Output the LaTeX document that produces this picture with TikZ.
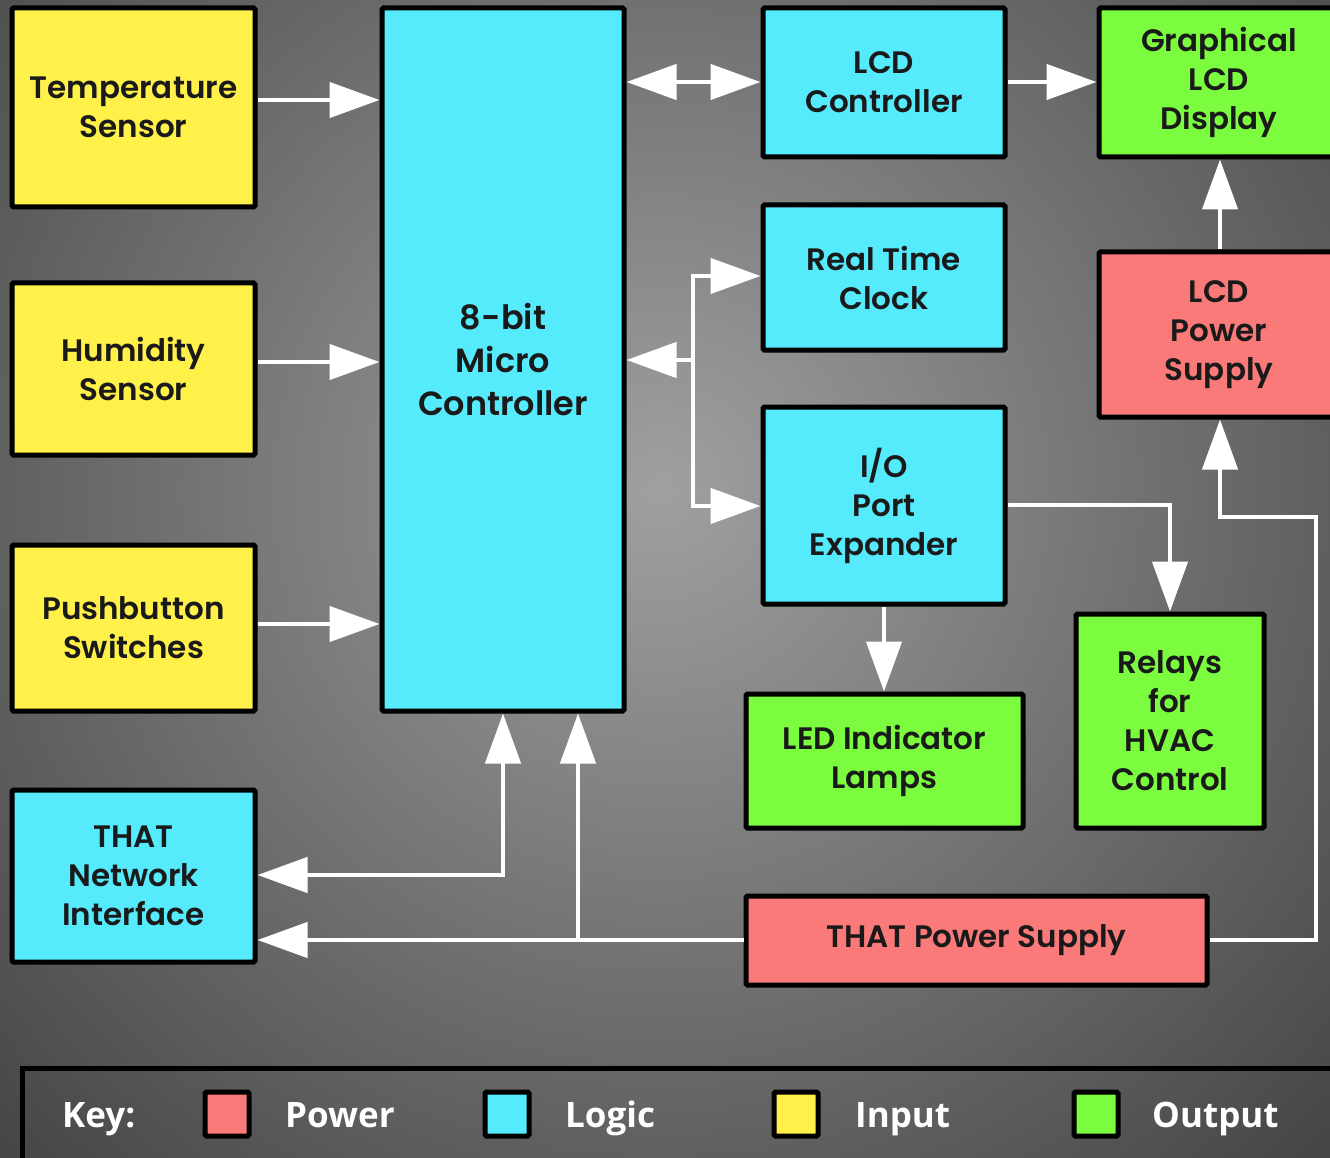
\documentclass[tikz,border=0pt]{standalone}
\usepackage{fontspec}
\IfFontExistsTF{Poppins SemiBold}{\setmainfont{Poppins}[BoldFont={Poppins SemiBold}]}{\IfFontExistsTF{Poppins Medium}{\setmainfont{Poppins}[BoldFont={Poppins Medium}]}{\setmainfont{Poppins}}}
\newfontfamily\keyfont{Open Sans}
\usetikzlibrary{arrows.meta}
\definecolor{cyanbox}{HTML}{55EBFC}
\definecolor{yellowbox}{HTML}{FFF04A}
\definecolor{greenbox}{HTML}{7BFC3E}
\definecolor{redbox}{HTML}{F97A78}
\definecolor{bgin}{HTML}{A0A0A0}
\definecolor{bgout}{HTML}{242424}
\definecolor{inktext}{HTML}{1A1A1A}
\tikzset{
  blk/.style={draw=black, line width=5pt, rounded corners=1.5pt, font=\fontsize{31}{39}\selectfont\bfseries, text=inktext, align=center, inner sep=0pt},
  inp/.style={blk, fill=yellowbox},
  logic/.style={blk, fill=cyanbox},
  outp/.style={blk, fill=greenbox},
  pwr/.style={blk, fill=redbox},
  conn/.style={draw=white, line width=4.5pt, -{Triangle[length=50pt,width=35pt]}},
  conn2/.style={draw=white, line width=4.5pt, {Triangle[length=50pt,width=35pt]}-{Triangle[length=50pt,width=35pt]}},
  plain/.style={draw=white, line width=4.5pt},
  swatch/.style={draw=black, line width=5pt, rounded corners=1.5pt, minimum width=44pt, minimum height=44pt, inner sep=0pt},
  keytxt/.style={text=white, font=\keyfont\fontsize{35}{44}\selectfont\bfseries, anchor=base west, inner sep=0pt}
}
\begin{document}
\begin{tikzpicture}[x=1pt,y=-1pt]
\useasboundingbox (0,0) rectangle (1330,1158);
\begin{scope}
\clip (0,0) rectangle (1330,1158);
\shade[inner color=bgin, outer color=bgout] (660-1280,490-1280) rectangle (660+1280,490+1280);
\end{scope}
% boxes
\node[inp, minimum width=243pt, minimum height=199pt] (temp) at (133.5,107.5) {Temperature\\Sensor};
\node[inp, minimum width=243pt, minimum height=172pt] (hum) at (133.5,369) {Humidity\\Sensor};
\node[inp, minimum width=243pt, minimum height=166pt] (push) at (133.5,628) {Pushbutton\\Switches};
\node[logic, minimum width=243pt, minimum height=172pt] (net) at (133.5,876) {THAT\\Network\\Interface};
\node[logic, minimum width=242pt, minimum height=703pt, font=\fontsize{33.5}{43}\selectfont\bfseries] (mc) at (503,359.5) {8-bit\\Micro\\Controller};
\node[logic, minimum width=242pt, minimum height=149pt] (lcdc) at (884,82.5) {LCD\\Controller};
\node[logic, minimum width=242pt, minimum height=145pt] (rtc) at (884,277.5) {Real Time\\Clock};
\node[logic, minimum width=242pt, minimum height=197pt] (io) at (884,505.5) {I/O\\Port\\Expander};
\node[outp, minimum width=240pt, minimum height=149pt] (glcd) at (1219,82.5) {Graphical\\LCD\\Display};
\node[pwr, minimum width=240pt, minimum height=165pt] (lps) at (1219,334.5) {LCD\\Power\\Supply};
\node[outp, minimum width=277pt, minimum height=134pt] (led) at (884.5,761) {LED Indicator\\Lamps};
\node[outp, minimum width=188pt, minimum height=214pt] (rel) at (1170,721) {Relays\\for\\HVAC\\Control};
\node[pwr, minimum width=461pt, minimum height=89pt] (tps) at (976.5,940.5) {THAT Power Supply};
% connectors
\draw[conn] (temp.east |- 0,100) -- (mc.west |- 0,100);
\draw[conn] (hum.east |- 0,362) -- (mc.west |- 0,362);
\draw[conn] (push.east |- 0,624) -- (mc.west |- 0,624);
\draw[conn2] (mc.east |- 0,82) -- (lcdc.west |- 0,82);
\draw[conn] (lcdc.east |- 0,82) -- (glcd.west |- 0,82);
\draw[conn] (lps.north -| 1220,0) -- (glcd.south -| 1220,0);
\coordinate (bt) at (693,276);
\coordinate (bm) at (693,360);
\coordinate (bb) at (693,506);
\draw[plain, line cap=rect] (bt) -- (bb);
\draw[conn] (bm) -- (mc.east |- bm);
\draw[conn] (bt) -- (rtc.west |- bt);
\draw[conn] (bb) -- (io.west |- bb);
\coordinate (rc) at (1170,505);
\draw[conn] (io.east |- rc) -- (rc) -- (rel.north -| rc);
\draw[conn] (io.south) -- (led.north -| io.south);
\coordinate (nc) at (503,875);
\draw[conn2] (net.east |- nc) -- (nc) -- (mc.south -| nc);
\coordinate (pj) at (578,940);
\draw[conn] (tps.west |- pj) -- (net.east |- pj);
\draw[conn] (pj) -- (mc.south -| pj);
\coordinate (r1) at (1316,940);
\coordinate (r2) at (1316,517);
\coordinate (r3) at (1220,517);
\draw[conn] (tps.east |- r1) -- (r1) -- (r2) -- (r3) -- (lps.south -| r3);
% key
\draw[black, line width=5pt] (1345,1068) -- (22,1068) -- (22,1170);
\node[keytxt] (key) at (62,1127) {Key:};
\node[swatch, fill=redbox] (s1) at (227,1114) {};
\node[keytxt] (l1) at (285,1127) {Power};
\node[swatch, fill=cyanbox] (s2) at (507,1114) {};
\node[keytxt] (l2) at (565,1127) {Logic};
\node[swatch, fill=yellowbox] (s3) at (796,1114) {};
\node[keytxt] (l3) at (855,1127) {Input};
\node[swatch, fill=greenbox] (s4) at (1096,1114) {};
\node[keytxt] (l4) at (1152,1127) {Output};
\end{tikzpicture}
\end{document}
